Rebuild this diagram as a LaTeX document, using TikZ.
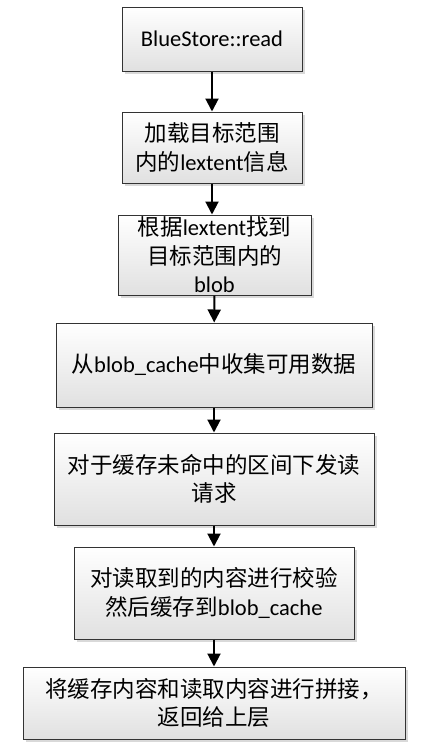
\documentclass[tikz,border=0pt]{standalone}
\usepackage{fontspec}
\setmainfont{Carlito}
\newfontfamily\cjk{Noto Sans CJK SC}
\usetikzlibrary{arrows.meta}
\usetikzlibrary{shadows}
\tikzset{
    stepbox/.style = {
        draw=black!80,
        line width=1pt,
        top color=white,
        bottom color=black!12,
        general shadow={fill=black!15, shadow xshift=3pt, shadow yshift=-3pt},
        align=center,
        inner sep=0pt,
        font=\fontsize{22.5}{28.5}\selectfont,
    },
    flow/.style = {
        line width=2pt,
        black,
        -{Triangle[length=13pt, width=13pt]},
    }
}

\begin{document}
\begin{tikzpicture}[x=1pt, y=-1pt]
  \useasboundingbox (0, 0) rectangle (435, 753);
  % Draw all steps

  \node[stepbox, minimum width=180, minimum height=64] (read) at (212, 39) {BlueStore::read};
  \node[stepbox, minimum width=180, minimum height=71] (lext) at (212, 147.5) {{\cjk 加载目标范围}\\{\cjk 内的}lextent{\cjk 信息}};
  \node[stepbox, minimum width=193, minimum height=80] (blob) at (214.5, 255) {{\cjk 根据}lextent{\cjk 找到}\\{\cjk 目标范围内的}\\blob};
  \node[stepbox, minimum width=316, minimum height=84] (cache) at (214, 365) {{\cjk 从}blob\_cache{\cjk 中收集可用数据}};
  \node[stepbox, minimum width=320, minimum height=92] (miss) at (214, 479) {{\cjk 对于缓存未命中的区间下发读}\\{\cjk 请求}};
  \node[stepbox, minimum width=280, minimum height=92] (check) at (214, 593) {{\cjk 对读取到的内容进行校验}\\{\cjk 然后缓存到}blob\_cache};
  \node[stepbox, minimum width=382, minimum height=72] (merge) at (214, 703) {{\cjk 将缓存内容和读取内容进行拼接，}\\{\cjk 返回给上层}};

  % Connect the steps
  \draw[flow] (read) -- (lext);
  \draw[flow] (lext) -- (lext |- blob.north);
  \draw[flow] (blob) -- (cache);
  \draw[flow] (cache) -- (miss);
  \draw[flow] (miss) -- (check);
  \draw[flow] (check) -- (merge);

\end{tikzpicture}
\end{document}
